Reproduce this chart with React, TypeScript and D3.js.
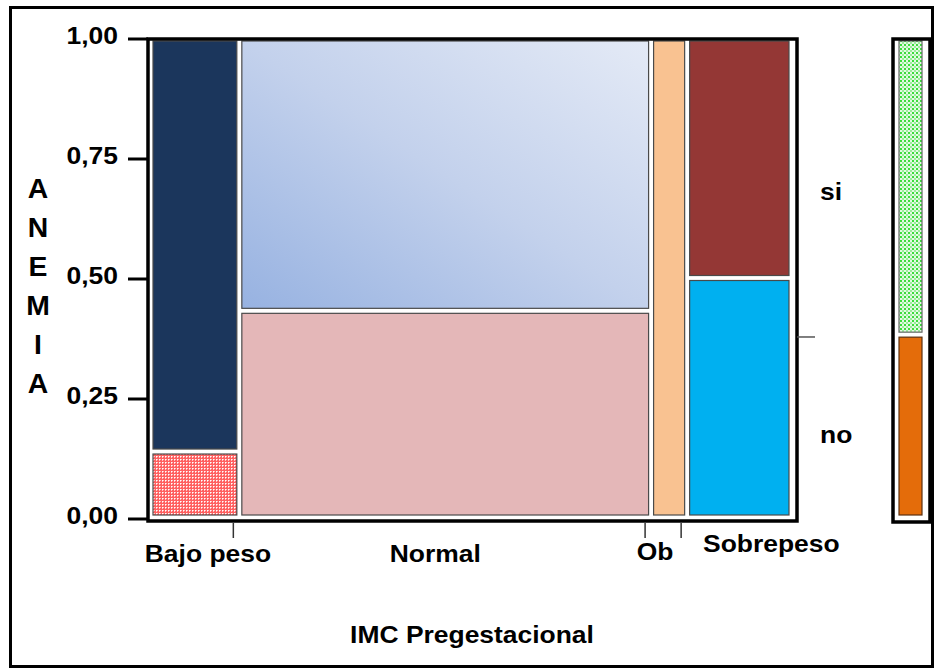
import React from "react";
import * as d3 from "d3";

const categories = ["Bajo peso", "Normal", "Ob", "Sobrepeso"];
const counts = [27, 131, 10, 32];
const noShare = [0.13, 0.43, 0, 0.5];
const yTicks = [0, 0.25, 0.5, 0.75, 1];
const levelLabels = ["si", "no"];
const yTitle = ["A", "N", "E", "M", "I", "A"];
const xTitle = "IMC Pregestacional";

const siFill = ["#1B365C", "url(#gradNormal)", "#F9C291", "#943735"];
const noFill = ["url(#patRed)", "#E4B7B8", "#F9C291", "#00B0F0"];
const labelDx = [13, -10, -14, 32];
const labelY = [562, 562, 560, 552];

const W = 939;
const H = 671;
const FONT = "'Liberation Sans', Arial, sans-serif";
const GAP = 5;
const SX = 1.15;

function SText(props: any) {
  const { x, y, anchor = "middle", size = 23, sx = SX, children, fill = "#000" } = props;
  return (
    <text
      transform={`translate(${x},${y}) scale(${sx},1)`}
      textAnchor={anchor}
      fontSize={size}
      fontWeight="bold"
      fontFamily={FONT}
      fill={fill}
    >
      {children}
    </text>
  );
}

export default function App() {
  const total = d3.sum(counts);
  const n = categories.length;
  const x0 = 153;
  const x1 = 789;
  const xs = d3.scaleLinear().domain([0, total]).range([x0, x1 - (n - 1) * GAP]);
  const yAxis = d3.scaleLinear().domain([0, 1]).range([519, 39]);
  const innerTop = 41;
  const innerBottom = 515;
  const usable = innerBottom - innerTop - GAP;

  const cum = [0];
  counts.forEach((c, i) => cum.push(cum[i] + c));

  const cols = categories.map((cat, i) => {
    const left = xs(cum[i]) + i * GAP;
    const right = xs(cum[i + 1]) + i * GAP;
    const nf = noShare[i];
    const noH = nf * usable;
    const segs: any[] = [];
    if (nf > 0 && nf < 1) {
      segs.push({ y: innerBottom - noH, h: noH, fill: noFill[i] });
      segs.push({ y: innerTop, h: innerBottom - noH - GAP - innerTop, fill: siFill[i] });
    } else if (nf >= 1) {
      segs.push({ y: innerTop, h: innerBottom - innerTop, fill: noFill[i] });
    } else {
      segs.push({ y: innerTop, h: innerBottom - innerTop, fill: siFill[i] });
    }
    return { cat, i, left, right, segs };
  });

  const marginalNo = d3.sum(counts.map((c, i) => c * noShare[i])) / total;
  const legX0 = 899;
  const legX1 = 922;
  const legNoH = marginalNo * usable;

  const frame = { l: 148, r: 797, t: 39, b: 521 };

  return (
    <svg
      width={W}
      height={H}
      style={{ position: "absolute", left: 0, top: 0, background: "#fff" }}
    >
      <defs>
        <linearGradient id="gradNormal" x1="0" y1="1" x2="1" y2="0">
          <stop offset="0" stopColor="#97B2E1" />
          <stop offset="0.5" stopColor="#C3D1EC" />
          <stop offset="1" stopColor="#E4EAF6" />
        </linearGradient>
        <pattern id="patRed" width="3" height="3" patternUnits="userSpaceOnUse">
          <rect width="3" height="3" fill="#FF6060" />
          <rect x="0" y="0" width="1" height="1" fill="#FFFFFF" />
          <rect x="1" y="0" width="1" height="1" fill="#FFC0C0" />
          <rect x="0" y="1" width="1" height="1" fill="#FFC0C0" />
        </pattern>
        <pattern id="patGreen" width="4" height="4" patternUnits="userSpaceOnUse">
          <rect width="4" height="4" fill="#E2FAE2" />
          <rect x="0" y="0" width="2" height="2" fill="#3CDC3C" />
          <rect x="2" y="2" width="2" height="2" fill="#9BEB9B" />
        </pattern>
      </defs>

      {/* outer border */}
      <rect x={10.5} y={7.5} width={922} height={659} fill="none" stroke="#000" strokeWidth={3} />

      {/* bars */}
      {cols.map((c) =>
        c.segs.map((s: any, k: number) => (
          <rect
            key={`${c.i}-${k}`}
            x={c.left}
            y={s.y}
            width={c.right - c.left}
            height={s.h}
            fill={s.fill}
            stroke="#4A4A4A"
            strokeWidth={1.2}
          />
        ))
      )}

      {/* plot frame */}
      <path
        d={`M${frame.l},${frame.t}H${frame.r}V${frame.b}H${frame.l}Z`}
        fill="none"
        stroke="#000"
        strokeWidth={3.5}
      />

      {/* y ticks */}
      {yTicks.map((t) => (
        <g key={t}>
          <line x1={128} x2={frame.l} y1={yAxis(t)} y2={yAxis(t)} stroke="#000" strokeWidth={3} />
          <SText x={118} y={yAxis(t) + 5} anchor="end">
            {d3.format(".2f")(t).replace(".", ",")}
          </SText>
        </g>
      ))}

      {/* y title */}
      {yTitle.map((ch, i) => (
        <SText key={i} x={38} y={198 + i * 39} size={27} sx={1.05}>
          {ch}
        </SText>
      ))}

      {/* x ticks between categories */}
      {cols.slice(0, n - 1).map((c) => (
        <line
          key={c.i}
          x1={c.right - 3.5}
          x2={c.right - 3.5}
          y1={frame.b + 2}
          y2={frame.b + 17}
          stroke="#333"
          strokeWidth={1.5}
        />
      ))}

      {/* category labels */}
      {cols.map((c) => (
        <SText key={c.i} x={(c.left + c.right) / 2 + labelDx[c.i]} y={labelY[c.i]}>
          {c.cat}
        </SText>
      ))}

      {/* marginal tick */}
      <line
        x1={frame.r}
        x2={815}
        y1={yAxis(marginalNo)}
        y2={yAxis(marginalNo)}
        stroke="#555"
        strokeWidth={1.5}
      />

      {/* level labels */}
      <SText x={820} y={200} anchor="start">{levelLabels[0]}</SText>
      <SText x={820} y={443} anchor="start">{levelLabels[1]}</SText>

      {/* legend column */}
      <rect
        x={legX0}
        y={innerTop}
        width={legX1 - legX0}
        height={innerBottom - legNoH - GAP - innerTop}
        fill="url(#patGreen)"
        stroke="#666"
        strokeWidth={1.2}
      />
      <rect
        x={legX0}
        y={innerBottom - legNoH}
        width={legX1 - legX0}
        height={legNoH}
        fill="#E46C0A"
        stroke="#5A3010"
        strokeWidth={1.2}
      />
      <path d={`M893,39H930V522H893Z`} fill="none" stroke="#000" strokeWidth={3.5} />

      {/* x title */}
      <SText x={472} y={643}>{xTitle}</SText>
    </svg>
  );
}
